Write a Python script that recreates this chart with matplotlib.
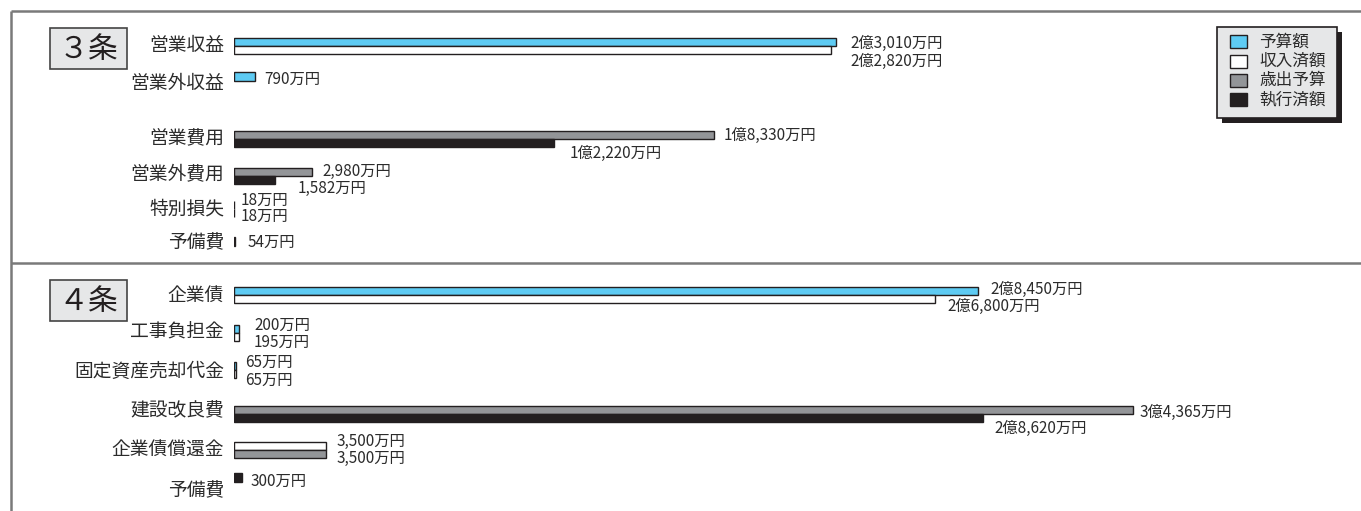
import matplotlib
matplotlib.use("Agg")
import matplotlib.pyplot as plt
from matplotlib.patches import Rectangle

plt.rcParams['font.family'] = ['Noto Sans CJK JP', 'DejaVu Sans']

# ---------------- data (万円) ----------------
cats3 = ['営業収益', '営業外収益', '営業費用', '営業外費用', '特別損失', '予備費']
top3 = [23010, 790, 18330, 2980, 18, 54]
bot3 = [22820, 0, 12220, 1582, 18, 0]
topkind3 = ['予算額', '予算額', '歳出予算', '歳出予算', '歳出予算', '執行済額']
botkind3 = ['収入済額', None, '執行済額', '執行済額', '執行済額', None]

cats4 = ['企業債', '工事負担金', '固定資産売却代金', '建設改良費', '企業債償還金', '予備費']
top4 = [28450, 200, 65, 34365, 3500, 300]
bot4 = [26800, 195, 65, 28620, 3500, 0]
topkind4 = ['予算額', '予算額', '予算額', '歳出予算', '収入済額', '執行済額']
botkind4 = ['収入済額', '収入済額', '収入済額', '執行済額', '歳出予算', None]

legend_labels = ['予算額', '収入済額', '歳出予算', '執行済額']
colors = {'予算額': '#5ecbf3', '収入済額': '#ffffff', '歳出予算': '#939598', '執行済額': '#231f20'}

# ---------------- layout (pixels) ----------------
W, H = 1361, 511
X0 = 234            # bar origin in pixels
S = 0.02616         # pixels per 万円
BH = 8              # bar height
rowy3 = [46, 77, 139, 176, 209, 242]
laby3 = [45, 84, 138, 175, 209, 243]
rowy4 = [295, 333, 370, 414, 450, 478]
laby4 = [295, 332, 371, 411, 449, 491]
# value label: (dx from bar end, y)
vl3_top = [(14, 43), (10, 79), (10, 135), (10, 171), (6, 200), (12, 242)]
vl3_bot = [(19, 61), None, (16, 153), (22, 188), (6, 216), None]
vl4_top = [(12, 289), (15, 325), (9, 362), (7, 412), (11, 441), (9, 481)]
vl4_bot = [(12, 306), (15, 342), (9, 380), (12, 428), (11, 458), None]


def fmt(v):
    if v >= 10000:
        return f"{v // 10000}億{v % 10000:,}万円"
    return f"{v:,}万円"


fig = plt.figure(figsize=(W / 100, H / 100), dpi=100)

deco = fig.add_axes([0, 0, 1, 1])
deco.set_xlim(0, W)
deco.set_ylim(H, 0)
deco.axis('off')

ax = fig.add_axes([X0 / W, 0, 1 - X0 / W, 1])
ax.set_xlim(0, (W - X0) / S)
ax.set_ylim(H, 0)
ax.axis('off')

line_c = '#7a7a7a'
deco.plot([11, W], [11, 11], color=line_c, lw=1.8, solid_capstyle='butt')
deco.plot([11, 11], [11, H], color=line_c, lw=1.8, solid_capstyle='butt')
deco.plot([11, W], [263, 263], color=line_c, lw=1.8, solid_capstyle='butt')

for (y0, txt) in [(28, '３条'), (280, '４条')]:
    deco.add_patch(Rectangle((50, y0), 77, 41, facecolor='#e6e7e8', edgecolor='#444444', lw=1.2))
    deco.text(88.5, y0 + 21, txt, fontsize=21.5, ha='center', va='center', color='#231f20')

TXT = '#2b2b2b'


def draw_section(cats, top, bot, tk, bk, rowy, laby, vtop, vbot):
    for i, c in enumerate(cats):
        deco.text(224, laby[i], c, fontsize=13.5, ha='right', va='center', color=TXT)
        single = bk[i] is None
        if single:
            ax.barh(rowy[i], top[i], height=BH + 1, left=0, color=colors[tk[i]],
                    edgecolor='#231f20', lw=1)
        else:
            ax.barh(rowy[i] - BH / 2, top[i], height=BH, left=0, color=colors[tk[i]],
                    edgecolor='#231f20', lw=1)
            ax.barh(rowy[i] + BH / 2, bot[i], height=BH, left=0, color=colors[bk[i]],
                    edgecolor='#231f20', lw=1)
        dx, ty = vtop[i]
        ax.annotate(fmt(top[i]), xy=(top[i], ty), xytext=(dx, 0), textcoords='offset pixels',
                    ha='left', va='center', fontsize=11, color=TXT)
        if vbot[i] is not None:
            dx, ty = vbot[i]
            ax.annotate(fmt(bot[i]), xy=(bot[i], ty), xytext=(dx, 0), textcoords='offset pixels',
                        ha='left', va='center', fontsize=11, color=TXT)


draw_section(cats3, top3, bot3, topkind3, botkind3, rowy3, laby3, vl3_top, vl3_bot)
draw_section(cats4, top4, bot4, topkind4, botkind4, rowy4, laby4, vl4_top, vl4_bot)

lx, ly, lw_, lh = 1217, 27, 120, 91
deco.add_patch(Rectangle((lx + 5, ly + 5), lw_, lh, facecolor='#231f20', edgecolor='none'))
deco.add_patch(Rectangle((lx, ly), lw_, lh, facecolor='#e6e7e8', edgecolor='#231f20', lw=1.2))
for j, lab in enumerate(legend_labels):
    yy = 42 + j * 19.3
    deco.add_patch(Rectangle((1230, yy - 6.5), 17, 13, facecolor=colors[lab],
                             edgecolor='#231f20', lw=1))
    deco.text(1259, yy, lab, fontsize=12, ha='left', va='center', color=TXT)

fig.savefig('out.png', dpi=100)
